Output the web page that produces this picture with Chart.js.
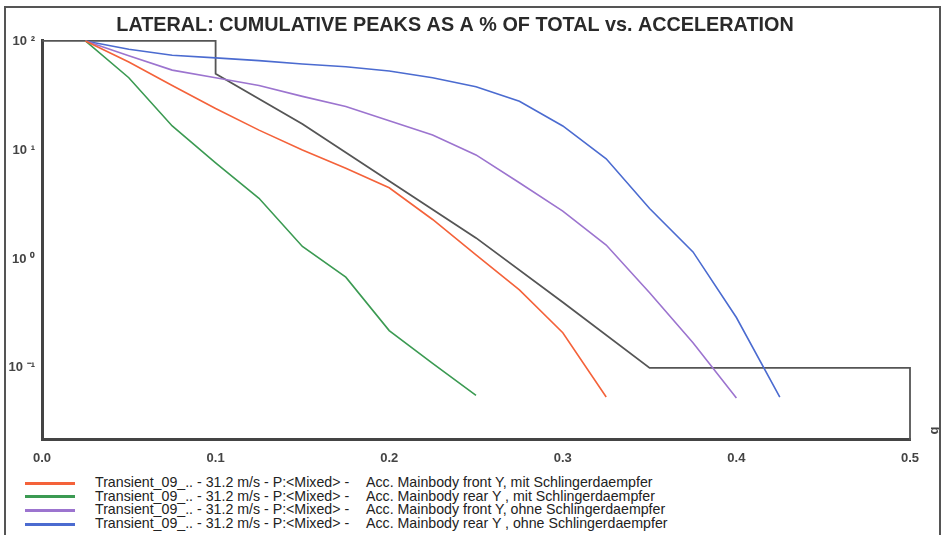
<!DOCTYPE html>
<html>
<head>
<meta charset="utf-8">
<title>Lateral cumulative peaks</title>
<script src="https://cdn.jsdelivr.net/npm/chart.js@4.4.1/dist/chart.umd.min.js"></script>
<style>
    html, body { margin: 0; padding: 0; background: #fff; }
    body { width: 945px; height: 535px; position: relative; overflow: hidden; font-family: Arial, "Liberation Sans", sans-serif; }
    #frame { position: absolute; left: 4px; top: 6px; width: 937px; height: 545px; border: 2px solid #555; box-sizing: border-box; pointer-events: none; }
    #wrap { position: absolute; left: 0; top: 0; width: 945px; height: 470px; }
    #unit { position: absolute; left: 930px; top: 423px; font-size: 13px; font-weight: bold; color: #444; transform: rotate(-90deg); }
    #legend { position: absolute; left: 0; top: 476px; width: 945px; }
    .row { position: relative; height: 13.7px; font-size: 14.2px; line-height: 13.7px; color: #222; white-space: nowrap; }
    .row .swatch { position: absolute; left: 25px; top: 5.5px; width: 50px; height: 3px; }
    .row .src { position: absolute; left: 95px; top: 0; }
    .row .sig { position: absolute; left: 366px; top: 0; }
</style>
</head>
<body>
<div id="wrap"><canvas id="chart"></canvas></div>
<div id="legend"></div>
<div id="unit">g</div>
<div id="frame"></div>
<script>
// Beschleunigung [g] der Stützstellen
const accelSteps = [0.025, 0.05, 0.075, 0.1, 0.125, 0.15, 0.175, 0.2, 0.225, 0.25,
                    0.275, 0.3, 0.325, 0.35, 0.375, 0.4, 0.425];

// kumulierte Spitzen in %
const frontMit  = [100, 64, 39, 24, 15.2, 10, 6.8, 4.5, 2.3, 1.09, 0.52, 0.21, 0.054];
const rearMit   = [100, 46, 16.6, 7.6, 3.6, 1.3, 0.68, 0.22, 0.11, 0.056];
const frontOhne = [100, 73, 54, 46, 39, 31, 25, 18.5, 13.7, 9.0, 5.0, 2.75, 1.34, 0.49, 0.17, 0.053];
const rearOhne  = [100, 84, 74, 70, 66, 61.5, 58, 53, 46, 38, 28, 16.6, 8.3, 2.9, 1.16, 0.29, 0.054];

// Grenzkurve
const limitX = [0, 0.1, 0.1, 0.15, 0.2, 0.25, 0.3, 0.35, 0.5, 0.5];
const limitY = [100, 100, 50, 17.3, 5.2, 1.56, 0.40, 0.1, 0.1, 0.0218];

const yTickValues = [0.1, 1, 10, 100];
const yTickLabels = ['10 \u207B\u00B9', '10 \u2070', '10 \u00B9', '10 \u00B2'];

const seriesSource = 'Transient_09_.. - 31.2 m/s - P:<Mixed> -';
const seriesNames = [
    'Acc. Mainbody front Y, mit Schlingerdaempfer',
    'Acc. Mainbody rear Y , mit Schlingerdaempfer',
    'Acc. Mainbody front Y, ohne Schlingerdaempfer',
    'Acc. Mainbody rear Y , ohne Schlingerdaempfer'
];
const seriesColors = ['#f4623a', '#3b9a52', '#9c74cf', '#4b6bd0'];
const seriesValues = [frontMit, rearMit, frontOhne, rearOhne];

document.addEventListener('DOMContentLoaded', function() {
    const ctx = document.getElementById('chart');
    const fontFamily = 'Arial, "Liberation Sans", sans-serif';

    const datasets = seriesValues.map((vals, i) => ({
        label: seriesSource + '   ' + seriesNames[i],
        data: vals.map((v, k) => ({ x: accelSteps[k], y: v })),
        borderColor: seriesColors[i],
        backgroundColor: seriesColors[i],
        borderWidth: 1.6,
        pointRadius: 0,
        tension: 0,
        clip: 6
    }));
    // Grenzkurve (grau)
    datasets.push({
        label: 'Limit',
        data: limitX.map((x, k) => ({ x: x, y: limitY[k] })),
        borderColor: '#555',
        backgroundColor: '#555',
        borderWidth: 1.8,
        pointRadius: 0,
        tension: 0,
        clip: 6
    });

    new Chart(ctx, {
        type: 'line',
        data: { datasets: datasets },
        options: {
            responsive: true,
            maintainAspectRatio: false,
            animation: false,
            layout: { padding: { left: 0, right: 35, top: 0, bottom: 0 } },
            plugins: {
                legend: { display: false },
                tooltip: { enabled: false },
                title: {
                    display: true,
                    text: 'LATERAL: CUMULATIVE PEAKS AS A % OF TOTAL vs. ACCELERATION',
                    color: '#2a2a2a',
                    font: { family: fontFamily, size: 19.8, weight: 'bold', lineHeight: 1.2 },
                    padding: { top: 14, bottom: 3.2 }
                }
            },
            scales: {
                x: {
                    type: 'linear',
                    min: 0,
                    max: 0.5,
                    afterFit: s => { s.height = 30; },
                    grid: { display: false, drawTicks: false },
                    border: { display: true, color: '#444', width: 3 },
                    ticks: {
                        stepSize: 0.1,
                        padding: 11,
                        maxRotation: 0,
                        color: '#444',
                        font: { family: fontFamily, size: 13, weight: 'bold' },
                        callback: v => v.toFixed(1)
                    }
                },
                y: {
                    type: 'logarithmic',
                    min: 0.0218,
                    max: 100,
                    afterFit: s => { s.width = 42; },
                    afterBuildTicks: s => { s.ticks = yTickValues.map(v => ({ value: v })); },
                    grid: { display: false, drawTicks: false },
                    border: { display: true, color: '#444', width: 3 },
                    ticks: {
                        padding: 7,
                        color: '#444',
                        font: { family: fontFamily, size: 13, weight: 'bold' },
                        callback: (v, i) => yTickLabels[i]
                    }
                }
            }
        }
    });

    // Legende (HTML), gleiche Farben wie die Kurven
    const legendEl = document.getElementById('legend');
    seriesNames.forEach((name, i) => {
        const row = document.createElement('div');
        row.className = 'row';
        row.innerHTML = '<span class="swatch"></span><span class="src"></span><span class="sig"></span>';
        row.querySelector('.swatch').style.background = seriesColors[i];
        row.querySelector('.src').textContent = seriesSource;
        row.querySelector('.sig').textContent = name;
        legendEl.appendChild(row);
    });
});
</script>
</body>
</html>
